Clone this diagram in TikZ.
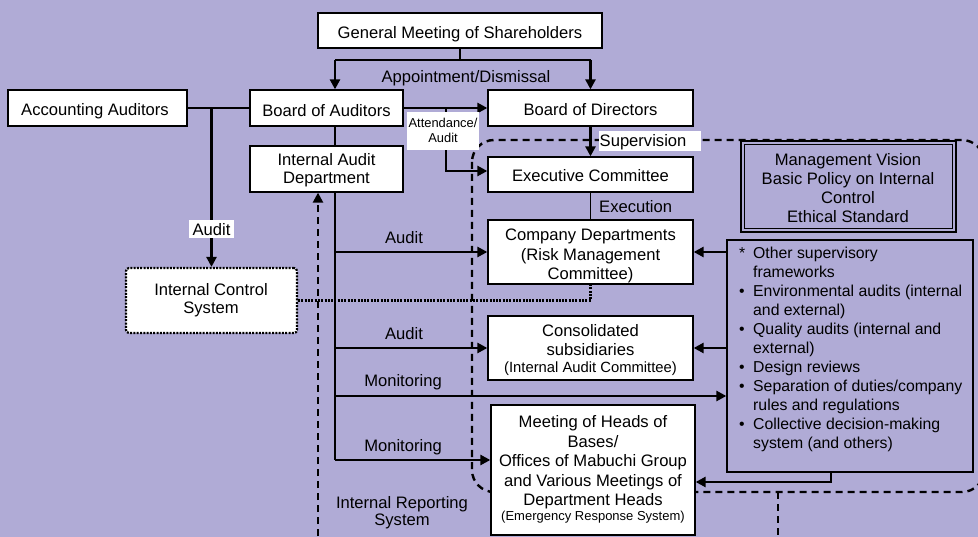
\documentclass[tikz,border=0pt]{standalone}
\usepackage{fontspec}
\setmainfont{Liberation Sans}
\usetikzlibrary{arrows.meta}
\definecolor{bgc}{RGB}{176,171,214}
\newcommand\myfm{\fontsize{16.6}{19.5}\selectfont}
\newcommand\myfl{\fontsize{15.8}{19}\selectfont}
\newcommand\myfa{\fontsize{12.9}{14.5}\selectfont}
\newcommand\myfc{\fontsize{14.8}{17}\selectfont}
\newcommand\myfe{\fontsize{13}{15}\selectfont}
\newcommand\mytab[1]{\begin{tabular}[t]{@{}c@{}}#1\end{tabular}}
\tikzset{
 box/.style={draw, line width=1.3pt, fill=white, inner sep=0pt},
 txt/.style={font=\myfm, inner sep=0pt, anchor=base},
 arr/.style={line width=2.6pt, -{Triangle[length=10pt,width=10pt]}},
 thk/.style={line width=2.6pt},
 thn/.style={line width=1.6pt},
 dsh/.style={line width=2.4pt, dash pattern=on 7pt off 5pt},
 dotl/.style={line width=2.2pt, dash pattern=on 2pt off 1.3pt},
 lblbg/.style={fill=white, inner sep=0pt},
}
\begin{document}
\begin{tikzpicture}[x=1pt,y=-1pt]
\useasboundingbox (0,0) rectangle (978,537);
\clip (0,0) rectangle (978,537);
\fill[bgc] (0,0) rectangle (978,537);

% ---- boxes (shapes only, drawn first as named nodes) ----
\node[box, minimum width=284pt, minimum height=35pt] (gm) at (460,30.5) {};
\node[box, minimum width=179pt, minimum height=36pt] (aa) at (97.5,108) {};
\node[box, minimum width=153pt, minimum height=36pt] (boa) at (326.5,108) {};
\node[box, minimum width=205pt, minimum height=36pt] (bod) at (590.5,108) {};
\node[box, minimum width=153pt, minimum height=46pt] (iad) at (326.5,169) {};
\node[box, minimum width=205pt, minimum height=35pt] (ex) at (590.5,174.5) {};
\node[box, minimum width=205pt, minimum height=64pt] (cd) at (590.5,252) {};
\node[box, minimum width=205pt, minimum height=64pt] (cs) at (590.5,348) {};
\node[box, minimum width=204pt, minimum height=130pt] (mt) at (593,470) {};
\node[box, dotl, rounded corners=3pt, minimum width=171pt, minimum height=65pt] (ics) at (211.5,300.5) {};
\node[draw, line width=1.3pt, inner sep=0pt, minimum width=246pt, minimum height=232pt] (ob) at (850,356) {};
\node[draw, line width=2.2pt, fill=bgc, inner sep=0pt, minimum width=215pt, minimum height=91pt] (mv) at (848.5,186.5) {};

% ---- connectors ----
\coordinate (j1) at (335,60);
\coordinate (j2) at (590.5,60);
\draw[thn] (gm.south) -- (gm.south |- j1);
\draw[thk] (j1) -- (j2);
\draw[arr] (j1) -- (j1 |- boa.north);
\draw[arr] (j2) -- (bod.north);
\draw[thn] (aa.east) -- (boa.west);
\draw[arr] (ics.north |- aa.east) -- (ics.north);
\draw[arr] (boa.east) -- (bod.west);
\coordinate (j3) at (446,108);
\draw[arr] (j3) |- ([yshift=3.5pt]ex.west);
\draw[thn] ([xshift=8.5pt]boa.south) -- ([xshift=8.5pt]iad.north);
\coordinate (v1) at (335,460);
\coordinate (m1) at (335,396);
\draw[thn] ([xshift=8.5pt]iad.south) -- (v1);
\draw[arr] (cd.west -| v1) -- (cd.west);
\draw[arr] (cs.west -| v1) -- (cs.west);
\draw[arr] (m1) -- (m1 -| ob.west);
\draw[arr] (v1) -- (v1 -| mt.west);
\draw[arr] (bod.south) -- (ex.north);
\draw[thn] (ex.south) -- (cd.north);
\draw[arr] (ob.west |- cd.east) -- (cd.east);
\draw[arr] (ob.west |- cs.east) -- (cs.east);
\draw[arr] ([xshift=-19pt]ob.south) |- ([yshift=-12pt]mt.east);
\draw[dotl] (ics.east) -| (cd.south);
\coordinate (d1) at (318,560);
\draw[arr, dsh] (d1) -- (d1 |- iad.south);
\coordinate (d2) at (778,492);
\coordinate (d3) at (778,560);
\draw[dsh] (d2) -- (d3);
\draw[dsh, rounded corners=22pt] (472,140) rectangle (984,492);

% redraw boxes on top of the dashed region
\node[box, minimum width=205pt, minimum height=35pt] (ex2) at (ex) {};
\node[box, minimum width=205pt, minimum height=64pt] (cd2) at (cd) {};
\node[box, minimum width=205pt, minimum height=64pt] (cs2) at (cs) {};
\node[box, minimum width=204pt, minimum height=130pt] (mt2) at (mt) {};
\node[draw, line width=2.2pt, fill=bgc, inner sep=0pt, minimum width=215pt, minimum height=91pt] (mv2) at (mv) {};
\draw[line width=1.4pt] ([shift={(4.5pt,4.5pt)}]mv2.south west) rectangle ([shift={(-4.5pt,-4.5pt)}]mv2.north east);

% ---- box texts ----
\node[txt] (gmt) at (460,39) {General Meeting of Shareholders};
\node[txt] (aat) at (95,116) {Accounting Auditors};
\node[txt] (boat) at (326.5,116.5) {Board of Auditors};
\node[txt] (bodt) at (590.5,116) {Board of Directors};
\node[txt] (iadt) at (326.5,166) {\mytab{Internal Audit\\[-1.5pt]Department}};
\node[txt] (ext) at (590.5,182) {Executive Committee};
\node[txt] (cdt) at (590.5,241) {\mytab{Company Departments\\(Risk Management\\Committee)}};
\node[txt] (cst) at (590.5,337) {\mytab{Consolidated\\[-0.5pt]subsidiaries\\[-3pt]{\myfc (Internal Audit Committee)}}};
\node[txt] (mtt) at (593,428) {\mytab{Meeting of Heads of\\Bases/\\Offices of Mabuchi Group\\and Various Meetings of\\Department Heads\\[-4.5pt]{\myfe (Emergency Response System)}}};
\node[txt] (icst) at (211,296) {\mytab{Internal Control\\[-1.5pt]System}};
\node[txt] (mvt) at (848,166) {\mytab{Management Vision\\[-0.5pt]Basic Policy on Internal\\[-0.5pt]Control\\[-0.5pt]Ethical Standard}};
\node[font=\myfl, inner sep=0pt, anchor=base west] (lst) at (739,259) {\begin{tabular}[t]{@{}l@{}l@{}}
\makebox[14pt][l]{*}&Other supervisory\\
&frameworks\\
\makebox[14pt][l]{\textbullet}&Environmental audits (internal\\
&and external)\\
\makebox[14pt][l]{\textbullet}&Quality audits (internal and\\
&external)\\
\makebox[14pt][l]{\textbullet}&Design reviews\\
\makebox[14pt][l]{\textbullet}&Separation of duties/company\\
&rules and regulations\\
\makebox[14pt][l]{\textbullet}&Collective decision-making\\
&system (and others)
\end{tabular}};

% ---- labels ----
\node[txt] (lapp) at (466,83) {Appointment/Dismissal};
\node[lblbg, minimum width=102pt, minimum height=19.5pt, anchor=north west] (lsupbg) at (599,131) {};
\node[txt, anchor=base west] (lsup) at (599.5,146.5) {Supervision};
\node[lblbg, minimum width=45pt, minimum height=18pt] (laudbg) at (211.5,229) {};
\node[txt] (laud) at (211.5,235.7) {Audit};
\node[lblbg, minimum width=72pt, minimum height=38pt] (lattbg) at (443,131) {};
\node[font=\myfa, inner sep=0pt, anchor=base] (latt) at (443,128) {\mytab{Attendance/\\Audit}};
\node[txt, anchor=base west] (lexe) at (599,213) {Execution};
\node[txt] (la1) at (404,244) {Audit};
\node[txt] (la2) at (404,340) {Audit};
\node[txt] (lm1) at (403,387) {Monitoring};
\node[txt] (lm2) at (403,451) {Monitoring};
\node[txt] (lirs) at (402,508) {\mytab{Internal Reporting\\[-2.5pt]System}};
\end{tikzpicture}
\end{document}
